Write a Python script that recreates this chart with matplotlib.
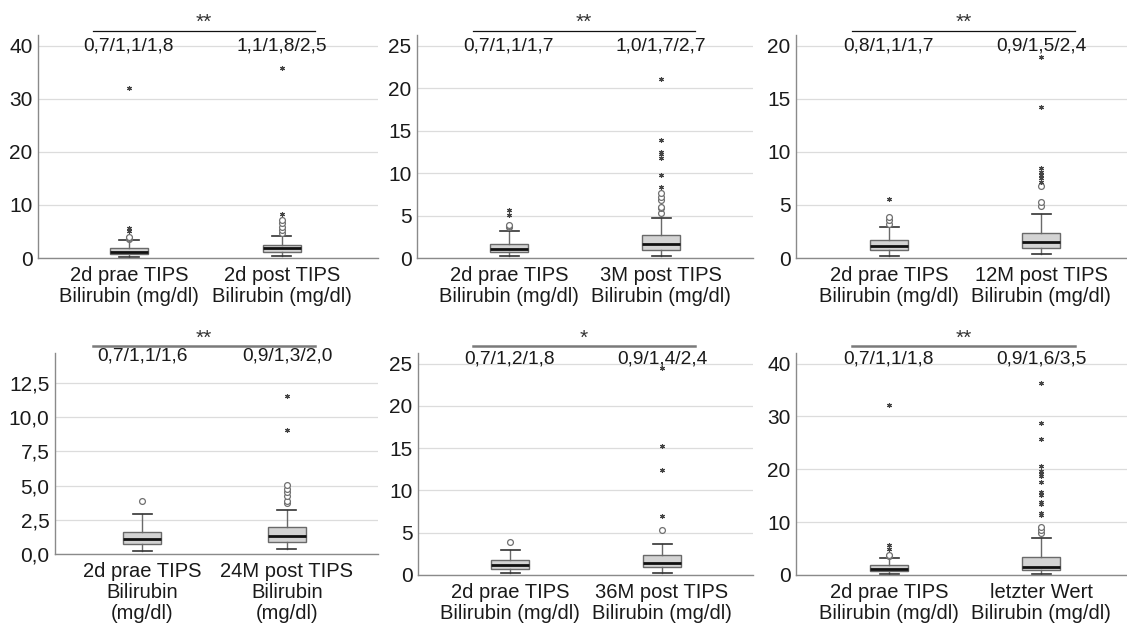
import matplotlib
matplotlib.use("Agg")
import matplotlib.pyplot as plt
from matplotlib.ticker import FuncFormatter
from matplotlib.lines import Line2D
import numpy as np

plt.rcParams['font.family'] = ['Liberation Sans', 'DejaVu Sans']

W, H = 1127, 625

# ---------------- data ----------------
pre_labels = ["2d prae TIPS\nBilirubin (mg/dl)"] * 3 + ["2d prae TIPS\nBilirubin\n(mg/dl)"] + \
             ["2d prae TIPS\nBilirubin (mg/dl)"] * 2
post_labels = ["2d post TIPS\nBilirubin (mg/dl)", "3M post TIPS\nBilirubin (mg/dl)",
               "12M post TIPS\nBilirubin (mg/dl)", "24M post TIPS\nBilirubin\n(mg/dl)",
               "36M post TIPS\nBilirubin (mg/dl)", "letzter Wert\nBilirubin (mg/dl)"]
significance = ["**", "**", "**", "**", "*", "**"]

pre_q1 = [0.7, 0.7, 0.8, 0.7, 0.7, 0.7]
pre_med = [1.1, 1.1, 1.1, 1.1, 1.2, 1.1]
pre_q3 = [1.8, 1.7, 1.7, 1.6, 1.8, 1.8]
pre_whislo = [0.2, 0.2, 0.2, 0.22, 0.2, 0.2]
pre_whishi = [3.3, 3.2, 2.9, 2.9, 2.9, 3.15]
pre_outliers = [[3.5, 3.7, 3.9], [3.6, 3.8, 3.9], [3.2, 3.6, 3.9], [3.9], [3.9], [3.6, 3.8]]
pre_extremes = [[5.0, 5.6, 32.1], [5.1, 5.6], [5.6], [], [], [4.85, 5.7, 32.1]]

post_q1 = [1.1, 1.0, 0.9, 0.9, 0.9, 0.9]
post_med = [1.8, 1.7, 1.5, 1.3, 1.4, 1.6]
post_q3 = [2.5, 2.7, 2.4, 2.0, 2.4, 3.5]
post_whislo = [0.3, 0.25, 0.35, 0.4, 0.2, 0.2]
post_whishi = [4.2, 4.7, 4.15, 3.2, 3.7, 7.05]
post_outliers = [[4.7, 5.2, 5.9, 6.5, 7.1], [5.35, 5.85, 6.05, 6.8, 7.2, 7.6], [4.9, 5.3, 6.8],
                 [3.7, 3.85, 4.2, 4.5, 4.75, 5.05], [5.3], [8.0, 8.5, 9.0]]
post_extremes = [[8.2, 35.8], [8.4, 9.75, 11.8, 12.3, 12.5, 13.9, 21.1],
                 [7.2, 7.5, 7.8, 8.1, 8.5, 14.2, 18.9], [9.05, 11.55], [7.0, 12.4, 15.2, 24.5],
                 [11.3, 11.65, 13.5, 13.9, 15.1, 15.7, 17.6, 18.7, 19.2, 19.7, 20.6, 25.8, 28.8, 36.4]]

y_max = [42.0, 26.26, 21.0, 14.68, 26.25, 42.0]
y_step = [10, 5, 5, 2.5, 5, 10]

# ---------------- layout (pixels) ----------------
# left, top, right, bottom of each plot area; box centre pixels
rects = [(38, 35, 378, 258), (417, 35, 753, 258), (796, 35, 1127, 258),
         (55, 353, 378, 554), (418, 353, 753, 575), (796, 353, 1127, 575)]
centres = [(129, 282), (509, 661), (889, 1041), (142, 287), (510, 662), (889, 1041)]
sig_x = [(93, 315), (473, 695), (852, 1075)] * 2
sig_y = [31, 31, 31, 346, 346, 346]
star_base = [28, 28, 28, 344, 344, 344]
quart_y = [46, 46, 46, 356, 359, 359]
box_px = 38

fig = plt.figure(figsize=(W / 100, H / 100), dpi=100)

GRAY = '#8a8a8a'


def fx(x):
    return x / W


def fy(y):
    return 1 - y / H


def fmt_comma(decimals):
    def f(v, pos):
        return (f"{v:.{decimals}f}").replace('.', ',')
    return f


for i in range(6):
    L, T, R, B = rects[i]
    c1, c2 = centres[i]
    ax = fig.add_axes([fx(L), fy(B), (R - L) / W, (B - T) / H])
    s = c2 - c1
    ax.set_xlim(1 - (c1 - L) / s, 2 + (R - c2) / s)
    ax.set_ylim(0, y_max[i])
    width = box_px / s

    stats = [
        dict(q1=pre_q1[i], med=pre_med[i], q3=pre_q3[i], whislo=pre_whislo[i],
             whishi=pre_whishi[i], fliers=[]),
        dict(q1=post_q1[i], med=post_med[i], q3=post_q3[i], whislo=post_whislo[i],
             whishi=post_whishi[i], fliers=[]),
    ]
    ax.bxp(stats, positions=[1, 2], widths=width, patch_artist=True, showfliers=False,
           boxprops=dict(facecolor='#d3d3d3', edgecolor='#6a6a6a', linewidth=1.0),
           medianprops=dict(color='#111111', linewidth=2.0),
           whiskerprops=dict(color='#6a6a6a', linewidth=1.0),
           capprops=dict(color='#333333', linewidth=1.2))

    for pos, outl, ext in ((1, pre_outliers[i], pre_extremes[i]),
                           (2, post_outliers[i], post_extremes[i])):
        if outl:
            ax.plot([pos] * len(outl), outl, 'o', mfc='white', mec='#707070', ms=4.2,
                    mew=0.9, zorder=4)
        if ext:
            ax.plot([pos] * len(ext), ext, marker=(6, 2, 0), ls='none', color='#444444',
                    ms=3.5, mew=0.8, zorder=4)

    ticks = np.arange(0, y_max[i] + 1e-9, y_step[i])
    ax.set_yticks(ticks)
    dec = 0 if float(y_step[i]).is_integer() else 1
    ax.yaxis.set_major_formatter(FuncFormatter(fmt_comma(dec)))
    ax.set_xticks([1, 2])
    ax.set_xticklabels([pre_labels[i], post_labels[i]], linespacing=1.15)
    ax.tick_params(axis='y', length=0, pad=4, labelsize=15, labelcolor='#1a1a1a')
    ax.tick_params(axis='x', length=0, pad=5.5, labelsize=14.5, labelcolor='#1a1a1a')

    ax.yaxis.grid(True, color='#dcdcdc', linewidth=0.9)
    ax.set_axisbelow(True)
    for sp in ('top', 'right'):
        ax.spines[sp].set_visible(False)
    for sp in ('left', 'bottom'):
        ax.spines[sp].set_color(GRAY)
        ax.spines[sp].set_linewidth(1.0)

    # quartile summary text
    for pos, (a, b, c) in ((1, (pre_q1[i], pre_med[i], pre_q3[i])),
                           (2, (post_q1[i], post_med[i], post_q3[i]))):
        txt = "/".join(f"{v:.1f}".replace('.', ',') for v in (a, b, c))
        xpix = centres[i][pos - 1]
        fig.text(fx(xpix), fy(quart_y[i]), txt, ha='center', va='center',
                 fontsize=13.8, color='#1a1a1a')

    # significance bar
    x0, x1 = sig_x[i]
    top_row = i < 3
    fig.add_artist(Line2D([fx(x0), fx(x1)], [fy(sig_y[i]), fy(sig_y[i])],
                          color='#111111' if top_row else '#7a7a7a',
                          linewidth=0.9 if top_row else 1.8))
    fig.text(fx((x0 + x1) / 2), fy(star_base[i]), significance[i], ha='center',
             va='baseline', fontsize=15, color='#333333')

fig.savefig("out.png", dpi=100)
